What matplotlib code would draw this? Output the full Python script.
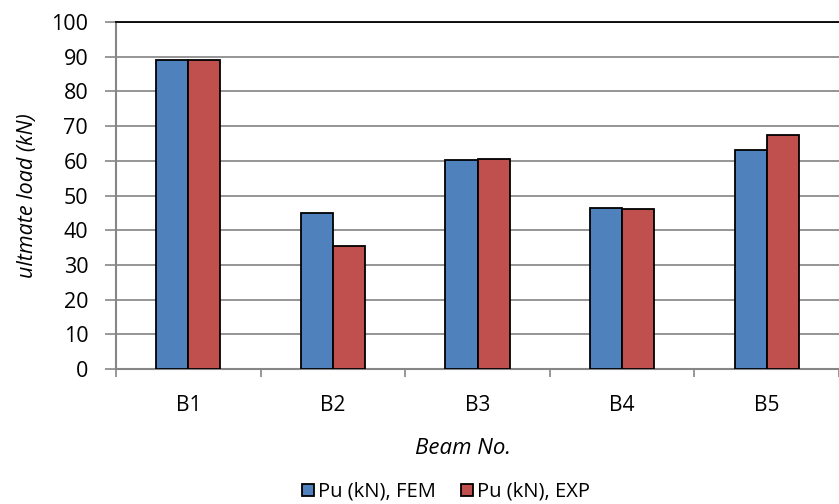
import numpy as np
import matplotlib
matplotlib.use("Agg")
from matplotlib import pyplot as plt

beams = ["B1", "B2", "B3", "B4", "B5"]
pu_fem = [89.0, 44.9, 60.2, 46.3, 63.2]
pu_exp = [89.1, 35.5, 60.4, 46.2, 67.5]
series_names = ["Pu (kN), FEM", "Pu (kN), EXP"]

plt.rcParams["font.family"] = ["Open Sans", "DejaVu Sans"]

fig = plt.figure(figsize=(8.39, 5.04), dpi=100)
ax = fig.add_axes([116 / 839, 135 / 504, 723 / 839, 347 / 504])

x = np.arange(len(beams))
w = 0.222
ax.bar(x - w / 2, pu_fem, w, color="#4F81BD", edgecolor="black", linewidth=1.3,
       label=series_names[0], zorder=3)
ax.bar(x + w / 2, pu_exp, w, color="#C0504D", edgecolor="black", linewidth=1.3,
       label=series_names[1], zorder=3)

ax.set_ylim(0, 100)
ax.set_xlim(-0.5, 4.435)
ax.set_yticks(np.arange(0, 101, 10))
ax.set_xticks(x)
ax.set_xticklabels(beams)
ax.set_xticks(np.arange(-0.5, 4.6, 1), minor=True)
ax.tick_params(axis="x", which="major", length=0, pad=19, labelsize=15)
ax.tick_params(axis="x", which="minor", length=6, color="#868686", width=1.2)
ax.tick_params(axis="y", length=8, color="#868686", width=1.2, labelsize=15.5, pad=12)
ax.yaxis.grid(True, color="#8c8c8c", linewidth=1.3, zorder=0)

for side in ["left", "bottom"]:
    ax.spines[side].set_color("#868686")
    ax.spines[side].set_linewidth(1.5)
ax.spines["top"].set_color("black")
ax.spines["top"].set_linewidth(1.3)
ax.spines["right"].set_visible(False)

fig.text(28 / 839, 1 - 196 / 504, "ultmate load (kN)", fontsize=15.5, style="italic",
         rotation=90, ha="center", va="center")
fig.text(463 / 839, 1 - 448 / 504, "Beam No.", fontsize=16, style="italic",
         ha="center", va="center")

fig.legend(loc="center", bbox_to_anchor=(446 / 839, 1 - 492 / 504), ncol=2,
           frameon=False, fontsize=14.5, handlelength=0.6, handleheight=0.6,
           handletextpad=0.2, columnspacing=1.2, borderpad=0.2)

fig.savefig("out.png", dpi=100)
